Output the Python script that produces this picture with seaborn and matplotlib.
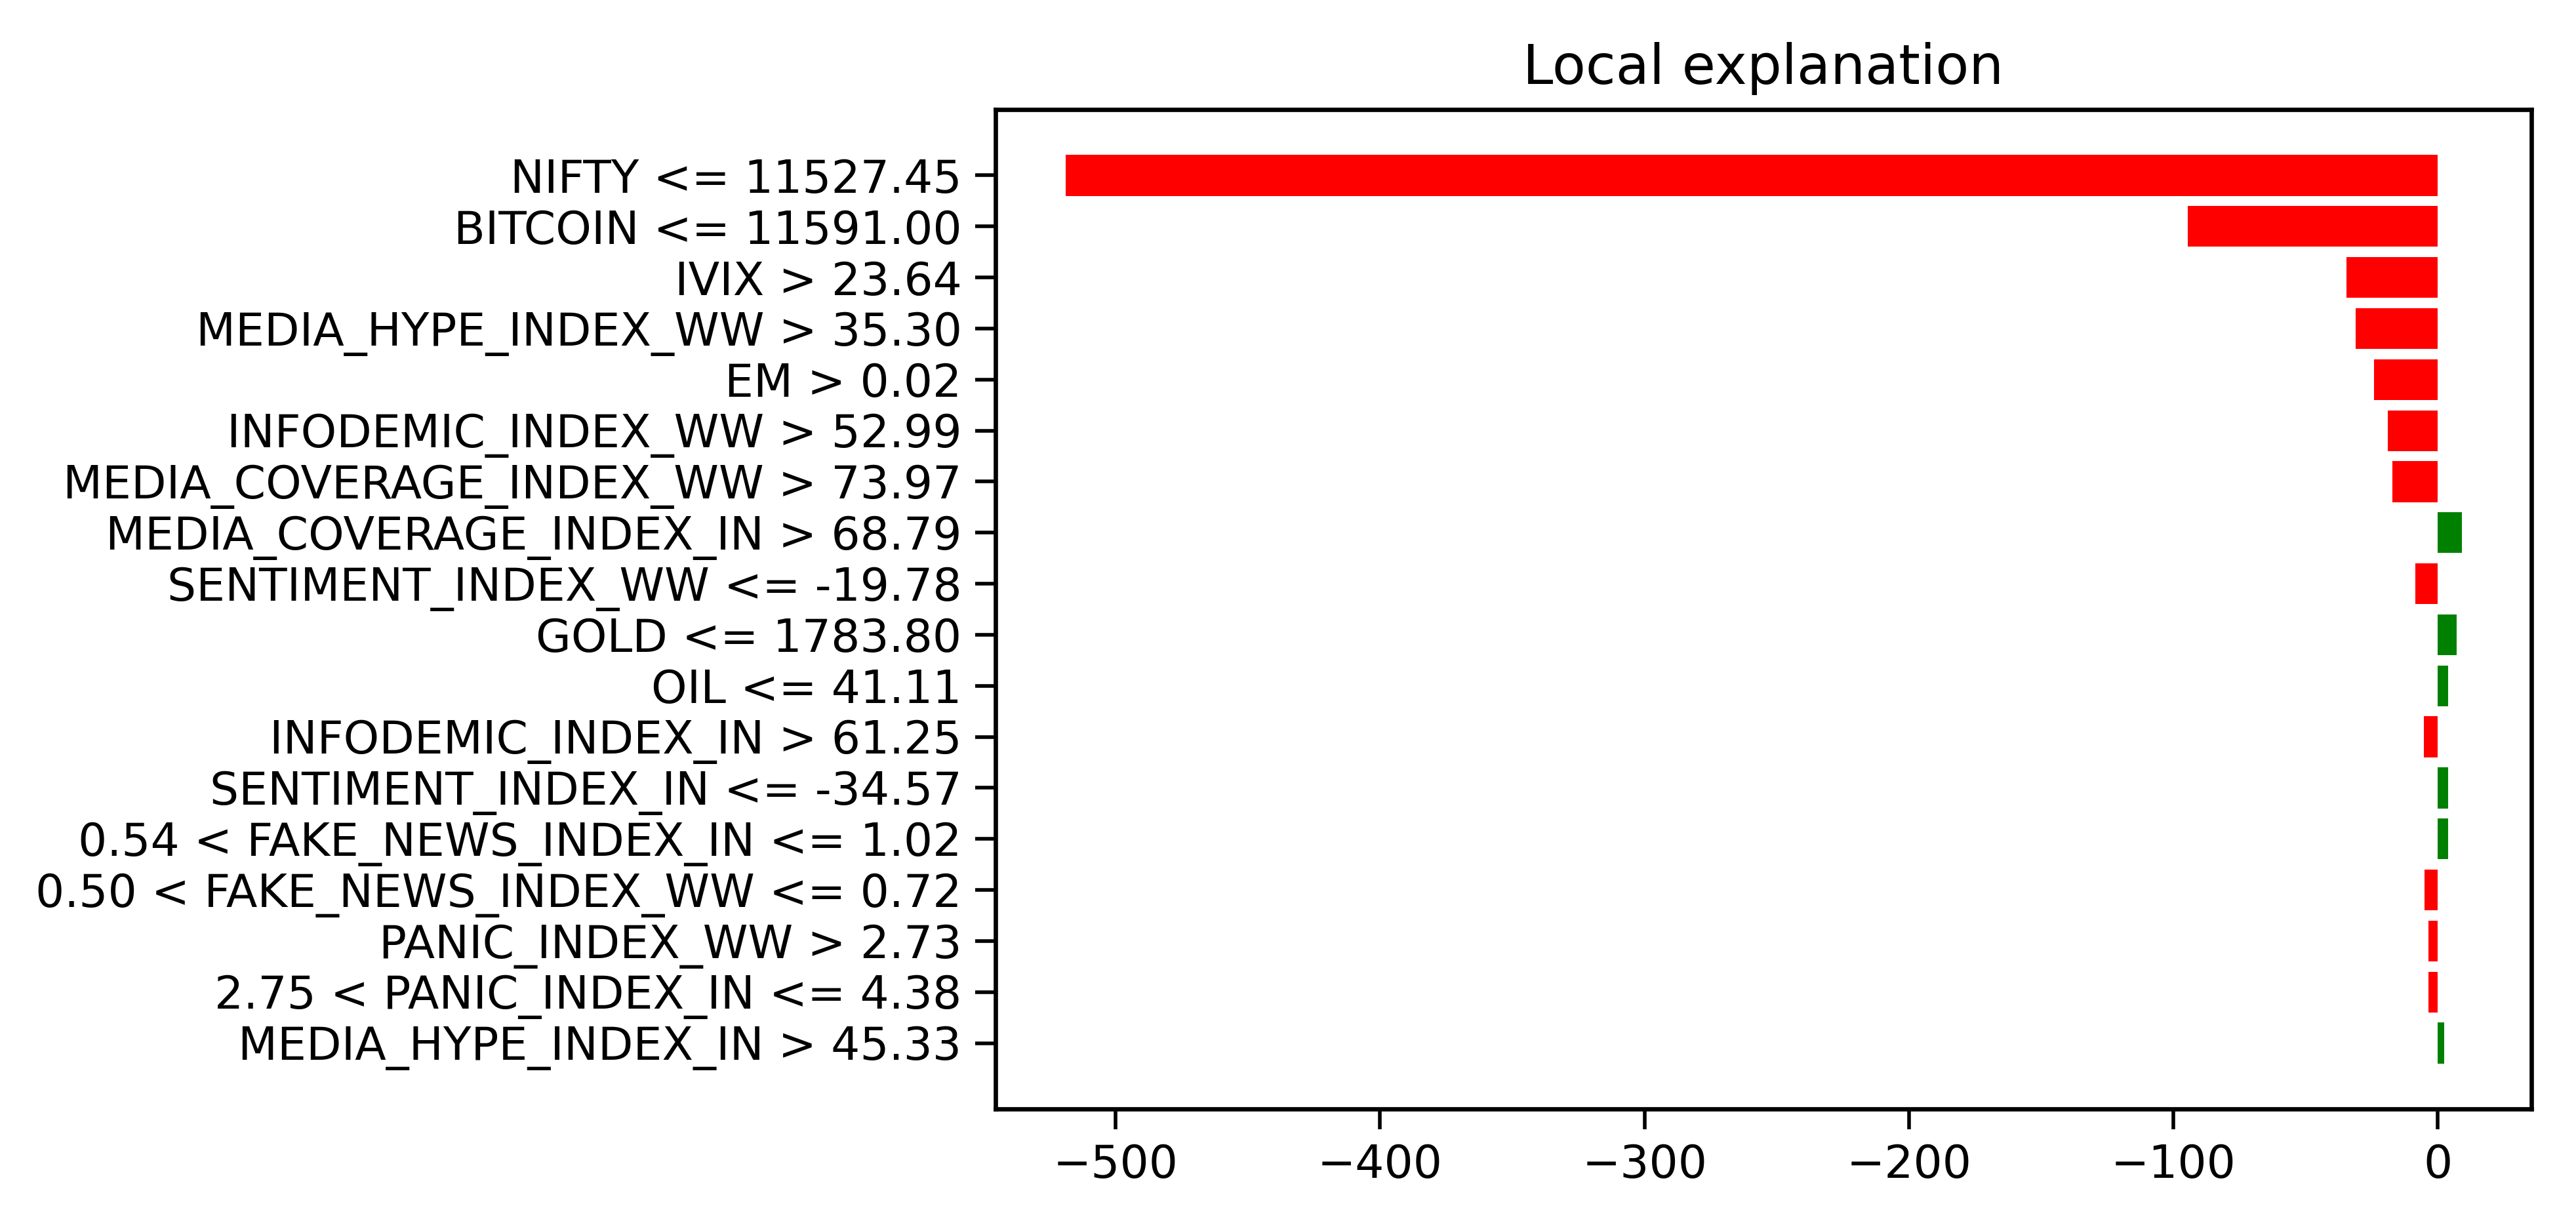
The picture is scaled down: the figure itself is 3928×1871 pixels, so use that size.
#!/usr/bin/env python
import matplotlib
matplotlib.use('Agg')
import matplotlib.pyplot as plt
import numpy as np
import pandas as pd
import seaborn as sns

# feature rules and their local weights, top bar first
features = ['NIFTY <= 11527.45', 'BITCOIN <= 11591.00', 'IVIX > 23.64',
            'MEDIA_HYPE_INDEX_WW > 35.30', 'EM > 0.02',
            'INFODEMIC_INDEX_WW > 52.99', 'MEDIA_COVERAGE_INDEX_WW > 73.97',
            'MEDIA_COVERAGE_INDEX_IN > 68.79', 'SENTIMENT_INDEX_WW <= -19.78',
            'GOLD <= 1783.80', 'OIL <= 41.11', 'INFODEMIC_INDEX_IN > 61.25',
            'SENTIMENT_INDEX_IN <= -34.57', '0.54 < FAKE_NEWS_INDEX_IN <= 1.02',
            '0.50 < FAKE_NEWS_INDEX_WW <= 0.72', 'PANIC_INDEX_WW > 2.73',
            '2.75 < PANIC_INDEX_IN <= 4.38', 'MEDIA_HYPE_INDEX_IN > 45.33']
weights = [-519.0, -94.5, -34.6, -31.1, -24.2, -18.9, -17.1,
           9.0, -8.5, 7.2, 4.0, -5.2, 3.9, 3.9, -5.0, -3.6, -3.5, 2.3]

df = pd.DataFrame({'feature': features, 'weight': weights})
df['sign'] = np.where(df['weight'] > 0, 'pos', 'neg')

plt.rcParams['font.family'] = ['DejaVu Sans']
plt.rcParams['font.size'] = 12.5

fig = plt.figure(figsize=(3928 / 400, 1871 / 400), dpi=400)
ax = fig.add_axes([0.3865, 0.0962, 0.5962, 0.8145])

sns.barplot(data=df, x='weight', y='feature', hue='sign', order=features,
            palette={'pos': 'green', 'neg': 'red'}, dodge=False, saturation=1,
            width=0.8, linewidth=0, legend=False, orient='h', ax=ax)

n = len(features)
ax.set_ylim(n - 1 + 1.29, -1.29)
lo, hi = min(weights), max(weights)
pad = 0.05 * (max(hi, 0) - min(lo, 0) + 0)
ax.set_xlim(lo - pad, hi + pad)

ax.set_xlabel('')
ax.set_ylabel('')
ax.set_title('Local explanation', fontsize=15, pad=7)
ax.tick_params(length=5.5, width=1.0, pad=3.8, labelsize=12.5)
for s in ax.spines.values():
    s.set_linewidth(1.2)
    s.set_visible(True)

fig.savefig('out.png', dpi=400)
